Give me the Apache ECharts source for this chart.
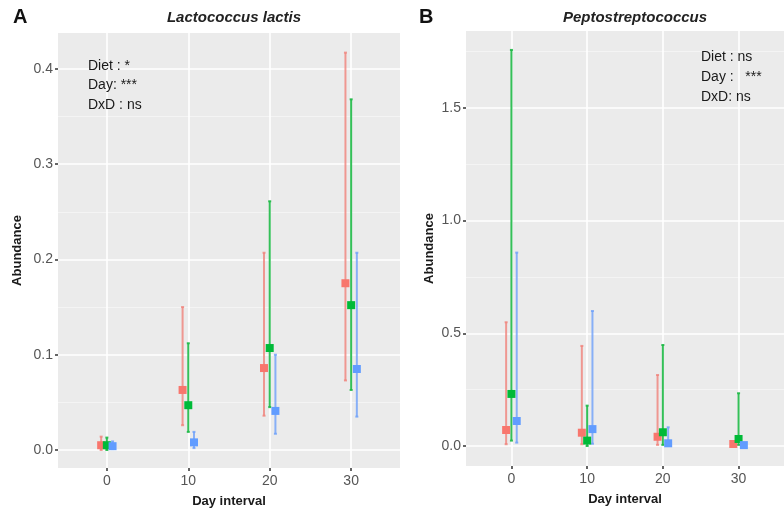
<!DOCTYPE html>
<html><head><meta charset="utf-8">
<script src="https://cdn.jsdelivr.net/npm/echarts@6/dist/echarts.min.js"></script>
<style>html,body{margin:0;padding:0;background:#fff}#c{width:784px;height:513px}</style>
</head><body><div id="c"></div>
<script>
// Categories (day intervals)
const days = ['0', '10', '20', '30'];
// Panel A: Lactococcus lactis
const aRedMean   = [0.005, 0.063, 0.086, 0.175];
const aRedLow    = [0.000, 0.026, 0.036, 0.073];
const aRedHigh   = [0.014, 0.150, 0.207, 0.417];
const aGreenMean = [0.005, 0.047, 0.107, 0.152];
const aGreenLow  = [0.000, 0.019, 0.045, 0.063];
const aGreenHigh = [0.013, 0.112, 0.261, 0.368];
const aBlueMean  = [0.004, 0.008, 0.041, 0.085];
const aBlueLow   = [0.001, 0.002, 0.017, 0.035];
const aBlueHigh  = [0.009, 0.019, 0.100, 0.207];
// Panel B: Peptostreptococcus
const bRedMean   = [0.071, 0.059, 0.041, 0.009];
const bRedLow    = [0.008, 0.008, 0.005, 0.000];
const bRedHigh   = [0.549, 0.444, 0.315, 0.020];
const bGreenMean = [0.231, 0.024, 0.061, 0.031];
const bGreenLow  = [0.024, 0.000, 0.005, 0.005];
const bGreenHigh = [1.757, 0.179, 0.448, 0.234];
const bBlueMean  = [0.111, 0.075, 0.012, 0.004];
const bBlueLow   = [0.015, 0.010, 0.000, 0.000];
const bBlueHigh  = [0.858, 0.599, 0.083, 0.010];
// Tick / gridline values
const xTicks  = [0, 1, 2, 3];
const aMajorY = [0, 0.1, 0.2, 0.3, 0.4];
const aMinorY = [0.05, 0.15, 0.25, 0.35];
const bMajorY = [0, 0.5, 1.0, 1.5];
const bMinorY = [0.25, 0.75, 1.25, 1.75];
const annotA = ['Diet : *', 'Day: ***', 'DxD : ns'];
const annotB = ['Diet : ns', 'Day :   ***', 'DxD: ns'];

const FONT = '"Liberation Sans", Arial, sans-serif';
const groups = [
  {pt: '#F8766D', bar: 'rgba(240,130,122,0.8)', off: -0.07},
  {pt: '#00BA38', bar: 'rgba(30,185,70,0.9)', off: 0},
  {pt: '#619CFF', bar: 'rgba(110,160,250,0.8)', off: 0.07}
];
const panelA = [[aRedMean, aRedLow, aRedHigh], [aGreenMean, aGreenLow, aGreenHigh], [aBlueMean, aBlueLow, aBlueHigh]];
const panelB = [[bRedMean, bRedLow, bRedHigh], [bGreenMean, bGreenLow, bGreenHigh], [bBlueMean, bBlueLow, bBlueHigh]];

function errRender(params, api) {
  const x = api.value(0), lo = api.value(1), hi = api.value(2);
  const p1 = api.coord([x, lo]), p2 = api.coord([x, hi]);
  const st = {stroke: api.visual('color'), lineWidth: 2};
  return {type: 'group', children: [
    {type: 'line', shape: {x1: p1[0], y1: p1[1], x2: p2[0], y2: p2[1]}, style: st},
    {type: 'line', shape: {x1: p2[0] - 1.5, y1: p2[1], x2: p2[0] + 1.5, y2: p2[1]}, style: st},
    {type: 'line', shape: {x1: p1[0] - 1.5, y1: p1[1], x2: p1[0] + 1.5, y2: p1[1]}, style: st}
  ]};
}

const series = [];
[panelA, panelB].forEach((panel, pi) => {
  const minor = pi === 0 ? aMinorY : bMinorY;
  const major = pi === 0 ? aMajorY : bMajorY;
  series.push({
    type: 'line', xAxisIndex: pi, yAxisIndex: pi, data: [], z: 0, silent: true,
    markLine: {silent: true, symbol: 'none', animation: false, z: 0,
      label: {show: false},
      data: minor.map(v => ({yAxis: v, lineStyle: {color: '#F6F6F6', width: 0.8, type: 'solid'}}))
        .concat(major.map(v => ({yAxis: v, lineStyle: {color: '#FFFFFF', width: 1.6, type: 'solid'}})))
        .concat(xTicks.map(v => ({xAxis: v, lineStyle: {color: '#FFFFFF', width: 1.6, type: 'solid'}})))}
  });
  panel.forEach((arrs, gi) => {
    const g = groups[gi];
    const [m, lo, hi] = arrs;
    series.push({
      type: 'custom', xAxisIndex: pi, yAxisIndex: pi, z: 10,
      itemStyle: {color: g.bar},
      renderItem: errRender,
      data: days.map((d, i) => [i + g.off, lo[i], hi[i]])
    });
    series.push({
      type: 'scatter', xAxisIndex: pi, yAxisIndex: pi, z: 11,
      symbol: 'rect', symbolSize: 8,
      itemStyle: {color: g.pt, opacity: 1},
      data: days.map((d, i) => [i + g.off, m[i]])
    });
  });
});

function xAxis(gi) {
  return {
    type: 'value', gridIndex: gi, min: -0.6, max: 3.6, position: 'bottom',
    name: 'Day interval', nameLocation: 'middle', nameGap: 27,
    nameTextStyle: {fontFamily: FONT, fontWeight: 'bold', fontSize: 13, color: '#1a1a1a'},
    axisLine: {show: false, onZero: false},
    axisTick: {show: true, length: 3, customValues: xTicks, lineStyle: {color: '#333', width: 1.5}},
    axisLabel: {show: true, margin: 6, fontFamily: FONT, fontSize: 14, color: '#555',
      customValues: xTicks,
      formatter: v => days[Math.round(v)]},
    splitLine: {show: false}
  };
}
function yAxis(gi, min, max, ticks) {
  return {
    type: 'value', gridIndex: gi, min: min, max: max, position: 'left',
    name: 'Abundance', nameLocation: 'middle', nameGap: gi === 0 ? 34 : 30,
    nameTextStyle: {fontFamily: FONT, fontWeight: 'bold', fontSize: 13, color: '#1a1a1a'},
    axisLine: {show: false, onZero: false},
    axisTick: {show: true, length: 3, customValues: ticks, lineStyle: {color: '#333', width: 1.5}},
    axisLabel: {margin: 5, fontFamily: FONT, fontSize: 14, color: '#555',
      customValues: ticks,
      formatter: v => v.toFixed(1)},
    splitLine: {show: false}
  };
}

const chart = echarts.init(document.getElementById('c'), null, {renderer: 'canvas'});
chart.setOption({
  animation: false,
  backgroundColor: '#FFFFFF',
  grid: [
    {left: 58, top: 33, width: 342, height: 435, show: true, backgroundColor: '#EBEBEB', borderWidth: 0},
    {left: 466, top: 31, width: 328, height: 435, show: true, backgroundColor: '#EBEBEB', borderWidth: 0}
  ],
  xAxis: [xAxis(0), xAxis(1)],
  yAxis: [yAxis(0, -0.0189, 0.4376, aMajorY), yAxis(1, -0.0887, 1.841, bMajorY)],
  title: [
    {text: 'A', left: 8, top: 2, textStyle: {fontFamily: FONT, fontWeight: 'bold', fontSize: 20, color: '#111'}},
    {text: 'B', left: 414, top: 2, textStyle: {fontFamily: FONT, fontWeight: 'bold', fontSize: 20, color: '#111'}},
    {text: 'Lactococcus lactis', left: 229, top: 5, textAlign: 'center',
      textStyle: {fontFamily: FONT, fontWeight: 'bold', fontStyle: 'italic', fontSize: 15, color: '#222'}},
    {text: 'Peptostreptococcus', left: 630, top: 5, textAlign: 'center',
      textStyle: {fontFamily: FONT, fontWeight: 'bold', fontStyle: 'italic', fontSize: 15, color: '#222'}}
  ],
  graphic: annotA.map((t, i) => ({type: 'text', left: 88, top: 59 + i * 19.5, z: 100,
      style: {text: t, font: '14px ' + FONT, fill: '#1a1a1a'}}))
    .concat(annotB.map((t, i) => ({type: 'text', left: 701, top: 50 + i * 20, z: 100,
      style: {text: t, font: '14px ' + FONT, fill: '#1a1a1a'}}))),
  series: series
});
</script>
</body></html>
